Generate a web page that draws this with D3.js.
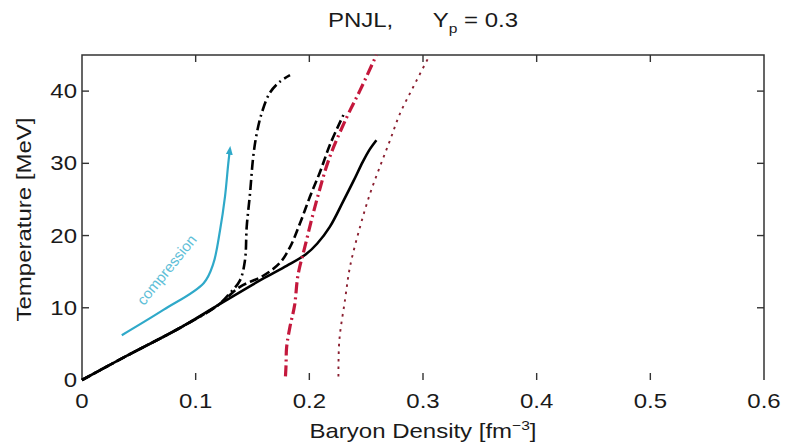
<!DOCTYPE html>
<html>
<head>
<meta charset="utf-8">
<script src="https://cdn.jsdelivr.net/npm/d3@7"></script>
<style>
  html, body { margin: 0; padding: 0; background: #fff; }
  svg { display: block; }
  text { font-family: "Liberation Sans", Arial, Helvetica, sans-serif; fill: #1a1a1a; }
</style>
</head>
<body>
<svg id="chart" width="787" height="446"></svg>
<script>
// Baryon density (fm^-3) and temperature (MeV) along each trajectory
const solidX = [0, 0.04, 0.086, 0.12, 0.16, 0.18, 0.197, 0.207, 0.218, 0.230, 0.239, 0.247, 0.253, 0.259];
const solidT = [0, 3.4, 7.2, 10.4, 14.1, 15.8, 17.4, 18.9, 21.2, 24.8, 27.6, 30.2, 31.9, 33.2];

const dashedX = [0, 0.04, 0.086, 0.12, 0.139, 0.159, 0.174, 0.183, 0.1918, 0.2006, 0.2094, 0.2182, 0.230];
const dashedT = [0, 3.4, 7.2, 10.4, 12.9, 14.4, 16.2, 18.4, 21.7, 25.4, 28.8, 32.6, 36.7];

const dashDotX = [0, 0.04, 0.086, 0.12, 0.130, 0.139, 0.1434, 0.1449, 0.1478, 0.1507, 0.1537, 0.158, 0.165, 0.174, 0.183];
const dashDotT = [0, 3.4, 7.2, 10.4, 12.0, 13.8, 16.6, 21.2, 25.8, 31.0, 34.1, 36.9, 39.7, 41.3, 42.2];

const redDashDotX = [0.179, 0.1795, 0.180, 0.183, 0.187, 0.190, 0.196, 0.2065, 0.218, 0.233, 0.2446, 0.259];
const redDashDotT = [0.5, 2, 4.5, 7.4, 10.3, 14.5, 18.4, 24.9, 30.9, 36.4, 40.1, 45];

const redDottedX = [0.2256, 0.2264, 0.2314, 0.2358, 0.2446, 0.2534, 0.262, 0.271, 0.2798, 0.2915, 0.306];
const redDottedT = [0.5, 5.5, 11.1, 15.7, 21.2, 25.8, 29.5, 33.2, 36.9, 40.6, 45];

const compressionX = [0.035, 0.0716, 0.107, 0.1155, 0.1214, 0.1258, 0.1287, 0.130];
const compressionT = [6.2, 9.7, 13.4, 16.1, 20.7, 25.4, 30.0, 31.8];

const xTicks = [0, 0.1, 0.2, 0.3, 0.4, 0.5, 0.6];
const xTickLabels = ["0", "0.1", "0.2", "0.3", "0.4", "0.5", "0.6"];
const yTicks = [0, 10, 20, 30, 40];
const yTickLabels = ["0", "10", "20", "30", "40"];

const svg = d3.select("#chart");
const margin = { left: 82, right: 23, top: 55, bottom: 66 };
const W = 787, H = 446;

const x = d3.scaleLinear().domain([0, 0.6]).range([margin.left, W - margin.right]);
const y = d3.scaleLinear().domain([0, 45]).range([H - margin.bottom, margin.top]);

const stretch = 1.2;   // horizontally widened lettering
const fontSize = 20;

function label(g, txt, px, py, anchor, size) {
  return g.append("text")
    .attr("transform", `translate(${px},${py}) scale(${stretch},1)`)
    .attr("text-anchor", anchor)
    .style("font-size", (size || fontSize) + "px")
    .text(txt);
}

// Frame (left, top, right edges)
const frame = svg.append("g").attr("stroke", "#333").attr("stroke-width", 1.5).attr("fill", "none");
frame.append("path")
  .attr("d", `M${x(0)},${y(0)} L${x(0)},${y(45)} L${x(0.6)},${y(45)} L${x(0.6)},${y(0)}`);

// Inward ticks on all four sides
const tickLen = 7;
const ticks = svg.append("g").attr("stroke", "#333").attr("stroke-width", 1.4);
xTicks.forEach(v => {
  if (v === 0 || v === 0.6) return;
  ticks.append("line").attr("x1", x(v)).attr("x2", x(v)).attr("y1", y(0)).attr("y2", y(0) - tickLen);
  ticks.append("line").attr("x1", x(v)).attr("x2", x(v)).attr("y1", y(45)).attr("y2", y(45) + tickLen);
});
yTicks.forEach(v => {
  if (v === 0) return;
  ticks.append("line").attr("x1", x(0)).attr("x2", x(0) + tickLen).attr("y1", y(v)).attr("y2", y(v));
  ticks.append("line").attr("x1", x(0.6)).attr("x2", x(0.6) - tickLen).attr("y1", y(v)).attr("y2", y(v));
});

// Tick labels
const tl = svg.append("g");
xTicks.forEach((v, i) => label(tl, xTickLabels[i], x(v), y(0) + 28, "middle"));
yTicks.forEach((v, i) => label(tl, yTickLabels[i], x(0) - 5, y(v) + 7, "end"));

// Axis titles
const xl = svg.append("text")
  .attr("transform", `translate(${x(0.3)},${H - 8}) scale(${stretch},1)`)
  .attr("text-anchor", "middle")
  .style("font-size", fontSize + "px");
xl.append("tspan").text("Baryon Density  [fm");
xl.append("tspan").attr("dy", -8).style("font-size", "13px").text("−3");
xl.append("tspan").attr("dy", 8).text("]");

svg.append("text")
  .attr("transform", `translate(31,${(y(0) + y(45)) / 2 + 2}) rotate(-90) scale(${stretch},1)`)
  .attr("text-anchor", "middle")
  .style("font-size", fontSize + "px")
  .text("Temperature  [MeV]");

// Title
const title = svg.append("text")
  .attr("transform", `translate(${x(0.3)},27) scale(${stretch},1)`)
  .attr("text-anchor", "middle")
  .attr("xml:space", "preserve")
  .style("font-size", fontSize + "px");
title.append("tspan").text("PNJL,      Y");
title.append("tspan").attr("dy", 6).style("font-size", "13px").text("p");
title.append("tspan").attr("dy", -6).text(" = 0.3");

// Trajectories
const line = d3.line()
  .x(d => x(d[0]))
  .y(d => y(d[1]))
  .curve(d3.curveCatmullRom.alpha(0.5));

function pairs(xs, ts) { return xs.map((v, i) => [v, ts[i]]); }

const curves = svg.append("g").attr("fill", "none").attr("stroke-linecap", "butt");

curves.append("path").datum(pairs(redDottedX, redDottedT))
  .attr("d", line).attr("stroke", "#8a1f30").attr("stroke-width", 1.9).attr("stroke-dasharray", "2.5,5");

curves.append("path").datum(pairs(dashDotX, dashDotT))
  .attr("d", line).attr("stroke", "#000").attr("stroke-width", 2.6).attr("stroke-dasharray", "10,4,2,4");

curves.append("path").datum(pairs(dashedX, dashedT))
  .attr("d", line).attr("stroke", "#000").attr("stroke-width", 2.6).attr("stroke-dasharray", "9,4");

curves.append("path").datum(pairs(solidX, solidT))
  .attr("d", line).attr("stroke", "#000").attr("stroke-width", 2.6);

curves.append("path").datum(pairs(redDashDotX, redDashDotT))
  .attr("d", line).attr("stroke", "#c4183c").attr("stroke-width", 3.2).attr("stroke-dasharray", "11,4,2,4");

// Compression path with arrowhead
svg.append("defs").append("marker")
  .attr("id", "arrow")
  .attr("viewBox", "0 0 10 10")
  .attr("refX", 5).attr("refY", 5)
  .attr("markerWidth", 4).attr("markerHeight", 4)
  .attr("orient", "auto")
  .append("path").attr("d", "M0,1 L10,5 L0,9 Z").attr("fill", "#2fa9c9");

curves.append("path").datum(pairs(compressionX, compressionT))
  .attr("d", line).attr("stroke", "#2fa9c9").attr("stroke-width", 2.2)
  .attr("marker-end", "url(#arrow)");

// Annotation along the compression path
svg.append("text")
  .attr("transform", `translate(${x(0.078)},${y(14.8)}) rotate(-51)`)
  .attr("text-anchor", "middle")
  .style("font-size", "15px")
  .style("fill", "#5fc0d8")
  .text("compression");
</script>
</body>
</html>
